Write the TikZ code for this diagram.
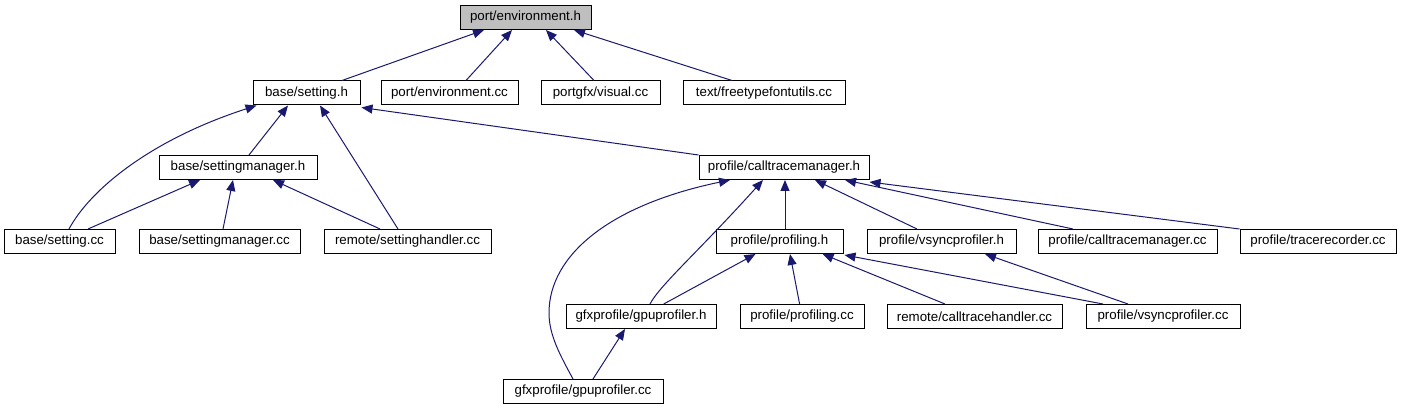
\documentclass[tikz,border=0pt]{standalone}
\usepackage{fontspec}
\setmainfont{Liberation Sans}
\usetikzlibrary{arrows.meta}
\definecolor{edgeblue}{HTML}{191970}
\definecolor{rootgray}{HTML}{BFBFBF}
\begin{document}
\begin{tikzpicture}[x=1pt,y=-1pt,
  box/.style={draw=black,line width=1pt,fill=white,minimum height=24pt,inner sep=0pt,
    font=\fontsize{13.3pt}{15pt}\selectfont},
  root/.style={box,fill=rootgray},
  edge/.style={draw=edgeblue,line width=1pt,-{Triangle[length=11pt,width=9pt]}}]
\useasboundingbox (0,0) rectangle (1401,411);
% row 1
\node[root,minimum width=131pt] (envh) at (525.5,17.5) {port/environment.h};
% row 2
\node[box,minimum width=107pt] (settingh) at (306.5,93) {base/setting.h};
\node[box,minimum width=137pt] (envcc) at (449.5,93) {port/environment.cc};
\node[box,minimum width=119pt] (visual) at (600.5,93) {portgfx/visual.cc};
\node[box,minimum width=162pt] (freetype) at (764,93) {text/freetypefontutils.cc};
% row 3
\node[box,minimum width=158pt] (smh) at (238,167.5) {base/settingmanager.h};
\node[box,minimum width=170pt] (ctmh) at (784,167.5) {profile/calltracemanager.h};
% row 4
\node[box,minimum width=111pt] (settingcc) at (59.5,241.5) {base/setting.cc};
\node[box,minimum width=161pt] (smcc) at (219.5,241.5) {base/settingmanager.cc};
\node[box,minimum width=167pt] (shcc) at (407.5,241.5) {remote/settinghandler.cc};
\node[box,minimum width=127pt] (profh) at (779.5,241.5) {profile/profiling.h};
\node[box,minimum width=149pt] (vsynch) at (941.5,241.5) {profile/vsyncprofiler.h};
\node[box,minimum width=179pt] (ctmcc) at (1127.5,241.5) {profile/calltracemanager.cc};
\node[box,minimum width=156pt] (tracer) at (1318,241.5) {profile/tracerecorder.cc};
% row 5
\node[box,minimum width=150pt] (gpuh) at (641,316.5) {gfxprofile/gpuprofiler.h};
\node[box,minimum width=124pt] (profcc) at (802,316.5) {profile/profiling.cc};
\node[box,minimum width=175pt] (cthcc) at (974.5,316.5) {remote/calltracehandler.cc};
\node[box,minimum width=154pt] (vsynccc) at (1163,316.5) {profile/vsyncprofiler.cc};
% row 6
\node[box,minimum width=160pt] (gpucc) at (583,391.5) {gfxprofile/gpuprofiler.cc};

% edges to port/environment.h
\draw[edge] ([xshift=35.5pt]settingh.north) -- ([xshift=-41.5pt]envh.south);
\draw[edge] ([xshift=16.5pt]envcc.north) -- ([xshift=-13.5pt]envh.south);
\draw[edge] ([xshift=-6.5pt]visual.north) -- ([xshift=20.5pt]envh.south);
\draw[edge] ([xshift=-32pt]freetype.north) -- ([xshift=48.5pt]envh.south);
% edges to base/setting.h
\draw[edge] ([xshift=11pt]smh.north) -- ([xshift=-18.5pt]settingh.south);
\draw[edge] ([xshift=9.5pt]settingcc.north) .. controls (90,190) and (150,140) .. ([xshift=4pt]settingh.south west);
\draw[edge] ([xshift=-9.5pt]shcc.north) -- ([xshift=13.5pt]settingh.south);
\draw[edge] (ctmh.north west) -- ([xshift=1pt,yshift=-2pt]settingh.south east);
% edges to base/settingmanager.h
\draw[edge] ([xshift=28.5pt]settingcc.north) -- ([xshift=-38pt]smh.south);
\draw[edge] ([xshift=3.5pt]smcc.north) -- ([xshift=-5pt]smh.south);
\draw[edge] ([xshift=-27.5pt]shcc.north) -- ([xshift=35pt]smh.south);
% edges to profile/calltracemanager.h
\draw[edge] ([xshift=5.5pt]profh.north) -- ([xshift=1pt]ctmh.south);
\draw[edge] ([xshift=-24.5pt]vsynch.north) -- ([xshift=31pt]ctmh.south);
\draw[edge] ([xshift=-54.5pt]ctmcc.north) -- ([xshift=61pt]ctmh.south);
\draw[edge] (tracer.north west) -- ([yshift=-2pt]ctmh.south east);
\draw[edge] ([xshift=9pt]gpuh.north) .. controls (660,285) and (700,250) .. ([xshift=-21pt]ctmh.south);
\draw[edge] ([xshift=-10pt]gpucc.north) .. controls (560,355) and (549,335) .. (549,313)
  .. controls (549,255) and (610,205) .. ([xshift=-54pt]ctmh.south);
% edges to profile/profiling.h
\draw[edge] ([xshift=22.7pt]gpuh.north) -- ([xshift=-24pt]profh.south);
\draw[edge] ([xshift=-2.4pt]profcc.north) -- ([xshift=10.5pt]profh.south);
\draw[edge] ([xshift=-29.5pt]cthcc.north) -- ([xshift=43pt]profh.south);
\draw[edge] ([xshift=-60pt]vsynccc.north) -- ([xshift=1pt,yshift=-1pt]profh.south east);
% edges to profile/vsyncprofiler.h
\draw[edge] ([xshift=-35pt]vsynccc.north) -- ([xshift=43.5pt]vsynch.south);
% edge to gfxprofile/gpuprofiler.h
\draw[edge] ([xshift=10pt]gpucc.north) -- ([xshift=-16pt]gpuh.south);
\end{tikzpicture}
\end{document}
